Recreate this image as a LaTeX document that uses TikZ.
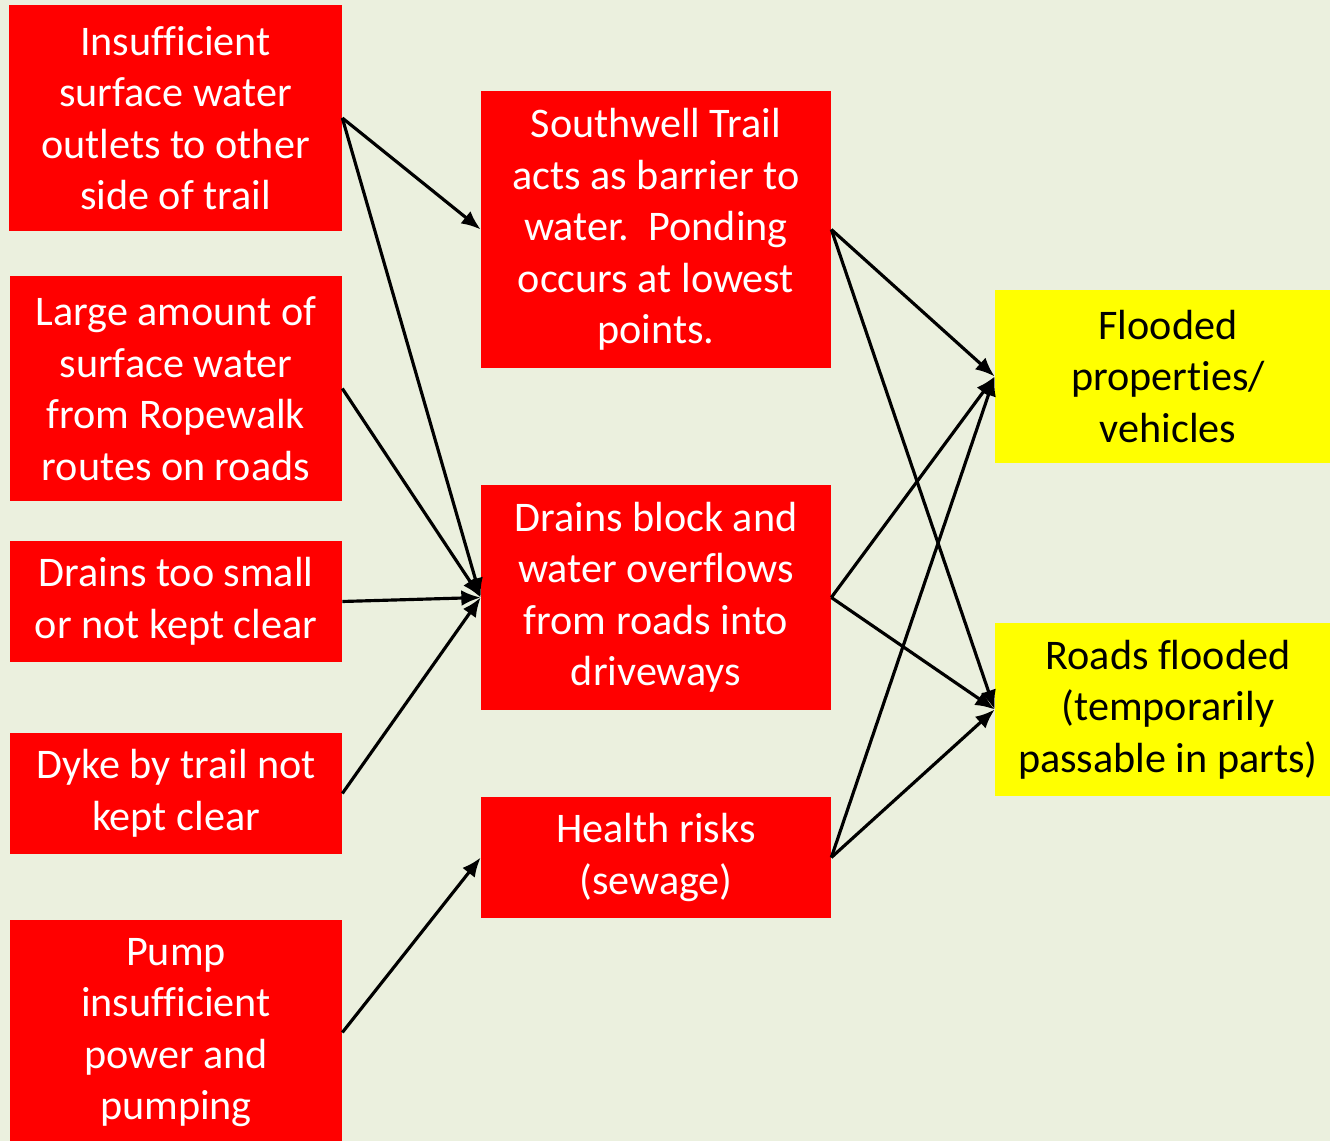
\documentclass[tikz,border=0pt]{standalone}
\usepackage{fontspec}
\setmainfont{Carlito}[Ligatures={NoCommon,NoContextual,NoRequired}]
\usepackage{xcolor}
\usetikzlibrary{arrows.meta}

\definecolor{paper}{HTML}{EBF0DE}
\definecolor{boxred}{HTML}{FF0000}
\definecolor{boxyellow}{HTML}{FFFF00}

\tikzset{
  cause/.style={fill=boxred,text=white,inner sep=0pt,align=center,
    font=\fontsize{24}{29.3}\selectfont},
  effect/.style={fill=boxyellow,text=black,inner sep=0pt,align=center,
    font=\fontsize{24}{29.3}\selectfont},
  link/.style={black,line width=1.8pt,-{Latex[length=11pt,width=9pt]}}
}

\begin{document}
\begin{tikzpicture}[x=0.02cm,y=-0.02cm]
                    \fill[paper] (0,0) rectangle (1330,1141);
                    \useasboundingbox (0,0) rectangle (1330,1141);

                    % left column
                    \node[cause,minimum width=6.66cm,minimum height=4.52cm] (outlets) at (175.5,118)
                        {Insufficient\\surface water\\outlets to other\\side of trail};
                    \node[cause,minimum width=6.64cm,minimum height=4.5cm] (ropewalk) at (176,388.5)
                        {Large amount of\\surface water\\from Ropewalk\\routes on roads};
                    \node[cause,minimum width=6.64cm,minimum height=2.42cm] (small) at (176,601.5)
                        {Drains too small\\or not kept clear};
                    \node[cause,minimum width=6.64cm,minimum height=2.42cm] (dyke) at (176,793.5)
                        {Dyke by trail not\\kept clear};
                    \node[cause,minimum width=6.64cm,minimum height=4.5cm] (pump) at (176,1032.5)
                        {Pump\\insufficient\\power and\\pumping};

                    % middle column
                    \node[cause,minimum width=7cm,minimum height=5.54cm] (barrier) at (656,229.5)
                        {Southwell Trail\\acts as barrier to\\water.\ \ Ponding\\occurs at lowest\\points.};
                    \node[cause,minimum width=7cm,minimum height=4.5cm] (block) at (656,597.5)
                        {Drains block and\\water overflows\\from roads into\\driveways};
                    \node[cause,minimum width=7cm,minimum height=2.42cm] (health) at (656,857.5)
                        {Health risks\\(sewage)};

                    % right column
                    \node[effect,minimum width=6.92cm,minimum height=3.46cm] (flooded) at (1168,376.5)
                        {Flooded\\proper\kern0pt ties/\\vehicles};
                    \node[effect,minimum width=6.92cm,minimum height=3.46cm] (roads) at (1168,709.5)
                        {Roads flooded\\(temporarily\\passable in parts)};

                    \draw[link] (outlets.east) -- (barrier.west);
                    \draw[link] (outlets.east) -- (block.west);
                    \draw[link] (ropewalk.east) -- (block.west);
                    \draw[link] (small.east) -- (block.west);
                    \draw[link] (dyke.east) -- (block.west);
                    \draw[link] (pump.east) -- (health.west);

                    \draw[link] (barrier.east) -- (flooded.west);
                    \draw[link] (barrier.east) -- (roads.west);
                    \draw[link] (block.east) -- (flooded.west);
                    \draw[link] (block.east) -- (roads.west);
                    \draw[link] (health.east) -- (flooded.west);
                    \draw[link] (health.east) -- (roads.west);
                \end{tikzpicture}
\end{document}
